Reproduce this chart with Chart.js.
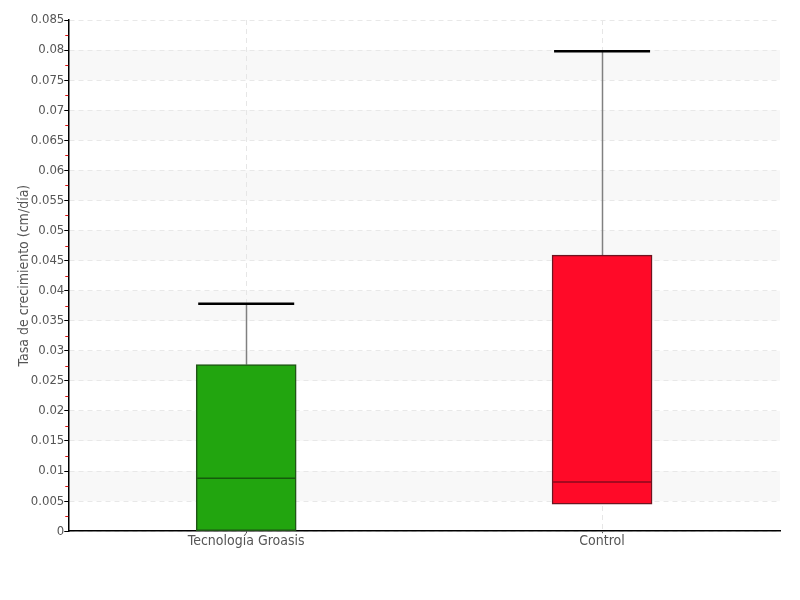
<!DOCTYPE html>
<html>
<head>
<meta charset="utf-8">
<script src="https://cdn.jsdelivr.net/npm/chart.js@4"></script>
<style>
  body { margin: 0; background: #fff; }
  #wrap { width: 800px; height: 600px; }
</style>
</head>
<body>
<div id="wrap"><canvas id="c"></canvas></div>
<script>
// box plot values (cm/día)
const categories = ['Tecnología Groasis', 'Control'];
const minVals = [0, 0.0045];
const q1Vals = [0, 0.0045];
const medianVals = [0.0088, 0.0082];
const q3Vals = [0.0277, 0.0459];
const maxVals = [0.0378, 0.0798];

const fillColors = ['#22a50f', '#ff0a28'];
const edgeColors = ['#1f5516', '#6e1420'];
const medianColors = ['#155a0c', '#8a0a1c'];

const yMax = 0.085;
const yStep = 0.005;

// alternating bands behind the plot
const bandsPlugin = {
  id: 'bands',
  beforeDraw(chart) {
    const { ctx, chartArea, scales } = chart;
    const y = scales.y;
    ctx.save();
    ctx.fillStyle = '#f8f8f8';
    for (let v = yStep; v < yMax - 1e-9; v += 2 * yStep) {
      const top = y.getPixelForValue(v + yStep);
      const bot = y.getPixelForValue(v);
      ctx.fillRect(chartArea.left, top, chartArea.right - chartArea.left, bot - top);
    }
    ctx.restore();
  }
};

// whiskers, caps, medians and minor ticks
const boxPlugin = {
  id: 'boxParts',
  beforeDatasetsDraw(chart) {
    const { ctx, scales } = chart;
    const x = scales.x, y = scales.y;
    ctx.save();
    ctx.strokeStyle = '#808080';
    ctx.lineWidth = 1.5;
    categories.forEach((c, i) => {
      const cx = Math.round(x.getPixelForValue(i)) + 0.5;
      ctx.beginPath();
      ctx.moveTo(cx, y.getPixelForValue(q3Vals[i]));
      ctx.lineTo(cx, y.getPixelForValue(maxVals[i]));
      if (minVals[i] < q1Vals[i]) {
        ctx.moveTo(cx, y.getPixelForValue(q1Vals[i]));
        ctx.lineTo(cx, y.getPixelForValue(minVals[i]));
      }
      ctx.stroke();
    });
    ctx.restore();
  },
  afterDatasetsDraw(chart) {
    const { ctx, scales, chartArea } = chart;
    const y = scales.y;
    const meta = chart.getDatasetMeta(0);
    ctx.save();
    categories.forEach((c, i) => {
      const bar = meta.data[i];
      const half = bar.width / 2;
      const cx = bar.x;
      // median
      ctx.strokeStyle = medianColors[i];
      ctx.lineWidth = 1.5;
      const my = y.getPixelForValue(medianVals[i]);
      ctx.beginPath();
      ctx.moveTo(cx - half + 1, my);
      ctx.lineTo(cx + half - 1, my);
      ctx.stroke();
      // caps
      ctx.strokeStyle = '#000';
      ctx.lineWidth = 2.5;
      const ty = y.getPixelForValue(maxVals[i]);
      ctx.beginPath();
      ctx.moveTo(cx - half + 2, ty);
      ctx.lineTo(cx + half - 2, ty);
      if (minVals[i] < q1Vals[i]) {
        const by = y.getPixelForValue(minVals[i]);
        ctx.moveTo(cx - half + 2, by);
        ctx.lineTo(cx + half - 2, by);
      }
      ctx.stroke();
    });
    // red minor ticks on y axis
    ctx.strokeStyle = '#e01010';
    ctx.lineWidth = 1;
    for (let v = yStep / 2; v < yMax; v += yStep) {
      const py = Math.round(y.getPixelForValue(v)) + 0.5;
      ctx.beginPath();
      ctx.moveTo(chartArea.left - 3, py);
      ctx.lineTo(chartArea.left, py);
      ctx.stroke();
    }
    ctx.restore();
  }
};

const fontFamily = '"DejaVu Sans Condensed", "Liberation Sans Narrow", "DejaVu Sans", sans-serif';
const textFont = { family: fontFamily, size: 14, style: 'condensed' };
const tickFont = { family: fontFamily, size: 13, style: 'condensed' };

new Chart(document.getElementById('c'), {
  type: 'bar',
  data: {
    labels: categories,
    datasets: [{
      label: 'Tasa de crecimiento',
      data: categories.map((c, i) => [q1Vals[i], q3Vals[i]]),
      backgroundColor: fillColors,
      borderColor: edgeColors,
      borderWidth: 1.5,
      borderSkipped: false,
      barThickness: 100
    }]
  },
  options: {
    responsive: true,
    maintainAspectRatio: false,
    animation: false,
    layout: { padding: { top: 20, right: 20, bottom: 50, left: 16 } },
    plugins: {
      legend: { display: false },
      tooltip: { enabled: false }
    },
    scales: {
      x: {
        offset: true,
        grid: {
          offset: false,
          color: '#e6e6e6',
          tickColor: '#555',
          tickLength: 2,
          lineWidth: 1
        },
        border: { color: '#000', width: 1.5, dash: [5, 4] },
        ticks: { color: '#555', font: textFont, padding: 0 }
      },
      y: {
        min: 0,
        max: yMax,
        grid: {
          color: '#e8e8e8',
          tickColor: '#000',
          tickLength: 4,
          lineWidth: 1
        },
        border: { color: '#000', width: 1.5, dash: [5, 4] },
        ticks: {
          stepSize: yStep,
          color: '#555',
          padding: 0,
          font: tickFont,
          callback: v => String(+v.toFixed(3))
        },
        title: {
          display: true,
          text: 'Tasa de crecimiento (cm/día)',
          color: '#555',
          font: textFont,
          padding: { top: 0, bottom: -2 }
        }
      }
    }
  },
  plugins: [bandsPlugin, boxPlugin]
});
</script>
</body>
</html>
